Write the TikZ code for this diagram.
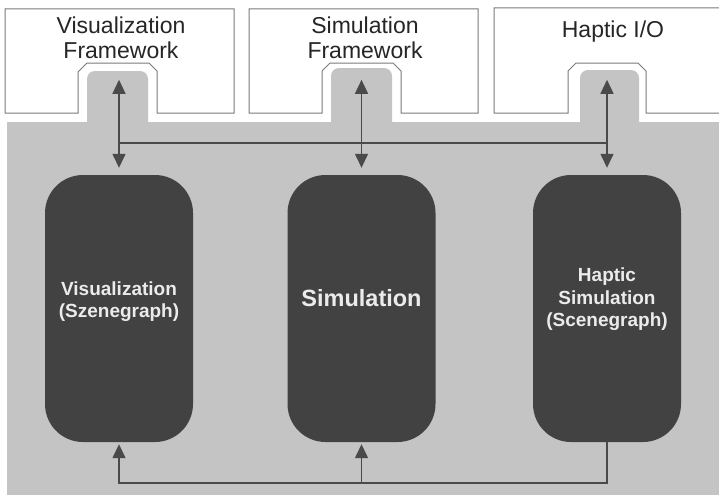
\documentclass[tikz,border=0pt]{standalone}
\usepackage{fontspec}
\setmainfont{Liberation Sans}
\usetikzlibrary{arrows.meta,calc}
\definecolor{bggray}{HTML}{C4C4C4}
\definecolor{boxdark}{HTML}{424242}
\definecolor{linegray}{HTML}{4A4A4A}
\definecolor{framegray}{HTML}{7A7A7A}
\begin{document}
\begin{tikzpicture}[x=1pt,y=-1pt,
  darkbox/.style={draw=none,fill=boxdark,rounded corners=38pt,minimum width=148pt,minimum height=267pt},
  boxtext/.style={align=center,text=white!92!black,font=\bfseries\fontsize{19}{22.5}\selectfont},
  bigtext/.style={align=center,text=white!92!black,font=\bfseries\fontsize{23.5}{26}\selectfont},
  toplabel/.style={align=center,text=black!85,font=\fontsize{23}{25}\selectfont},
  frame/.style={draw=framegray,line width=1pt,line join=miter},
  link/.style={draw=linegray,line width=1.4pt},
  arr/.style={link,-{Triangle[length=14pt,width=13pt]}},
  darr/.style={link,{Triangle[length=14pt,width=13pt]}-{Triangle[length=14pt,width=13pt]}}]

\useasboundingbox (0,0) rectangle (719,495);
\fill[white] (0,0) rectangle (719,495);

% gray working area with tabs
\fill[bggray] (7,122) rectangle (719,495);
\fill[bggray,rounded corners=8pt] (87,140) -- (87,71) -- (148,71) -- (148,140) -- cycle;
\fill[bggray,rounded corners=8pt] (331,140) -- (331,68) -- (392,68) -- (392,140) -- cycle;
\fill[bggray,rounded corners=8pt] (580,140) -- (580,70) -- (639,70) -- (639,140) -- cycle;

% top frames
\draw[frame] (5,9) -- (234,9) -- (234,113) -- (157,113) -- (157,71) -- (149,63) -- (87,63) -- (78,72) -- (78,113) -- (5,113) -- cycle;
\draw[frame] (249,9) -- (478,9) -- (478,113) -- (401,113) -- (401,71) -- (393,63) -- (330,63) -- (322,71) -- (322,113) -- (249,113) -- cycle;
\draw[frame] (719,8) -- (494,8) -- (494,113) -- (568,113) -- (568,71) -- (576,63) -- (638,63) -- (646,71) -- (646,113) -- (719,113);

\node[toplabel] (vf) at (121,37.5) {Visualization\\Framework};
\node[toplabel] (sf) at (365,37.5) {Simulation\\Framework};
\node[toplabel] (hio) at (613,32) {Haptic I/O};

% dark modules
\node[darkbox] (va) at (119,308.5) {};
\node[darkbox] (sim) at (361.5,308.5) {};
\node[darkbox] (hap) at (607,308.5) {};
\node[boxtext] (vat) at (119,301.5) {Visualization\\(Szenegraph)};
\node[bigtext] (simt) at (361.5,298) {Simulation};
\node[boxtext] (hapt) at (607,299.5) {Haptic\\Simulation\\(Scenegraph)};

% top connections
\coordinate (vtop) at ($(va.north)+(0,-95)$);
\coordinate (stop) at ($(sim.north)+(0,-95)$);
\coordinate (htop) at ($(hap.north)+(0,-95)$);
\draw[darr] (vtop) -- ([yshift=7pt]va.north);
\draw[darr] (stop) -- ([yshift=7pt]sim.north);
\draw[darr] (htop) -- ([yshift=7pt]hap.north);
\coordinate (hy) at (0,143);
\draw[link] (va.north |- hy) -- (hap.north |- hy);

% bottom connections
\coordinate (by) at (0,483);
\draw[arr] (hap.south) -- (hap.south |- by) -- (va.south |- by) -- ([yshift=-2pt]va.south);
\draw[arr] (sim.south |- by) -- ([yshift=-2pt]sim.south);
\end{tikzpicture}
\end{document}
